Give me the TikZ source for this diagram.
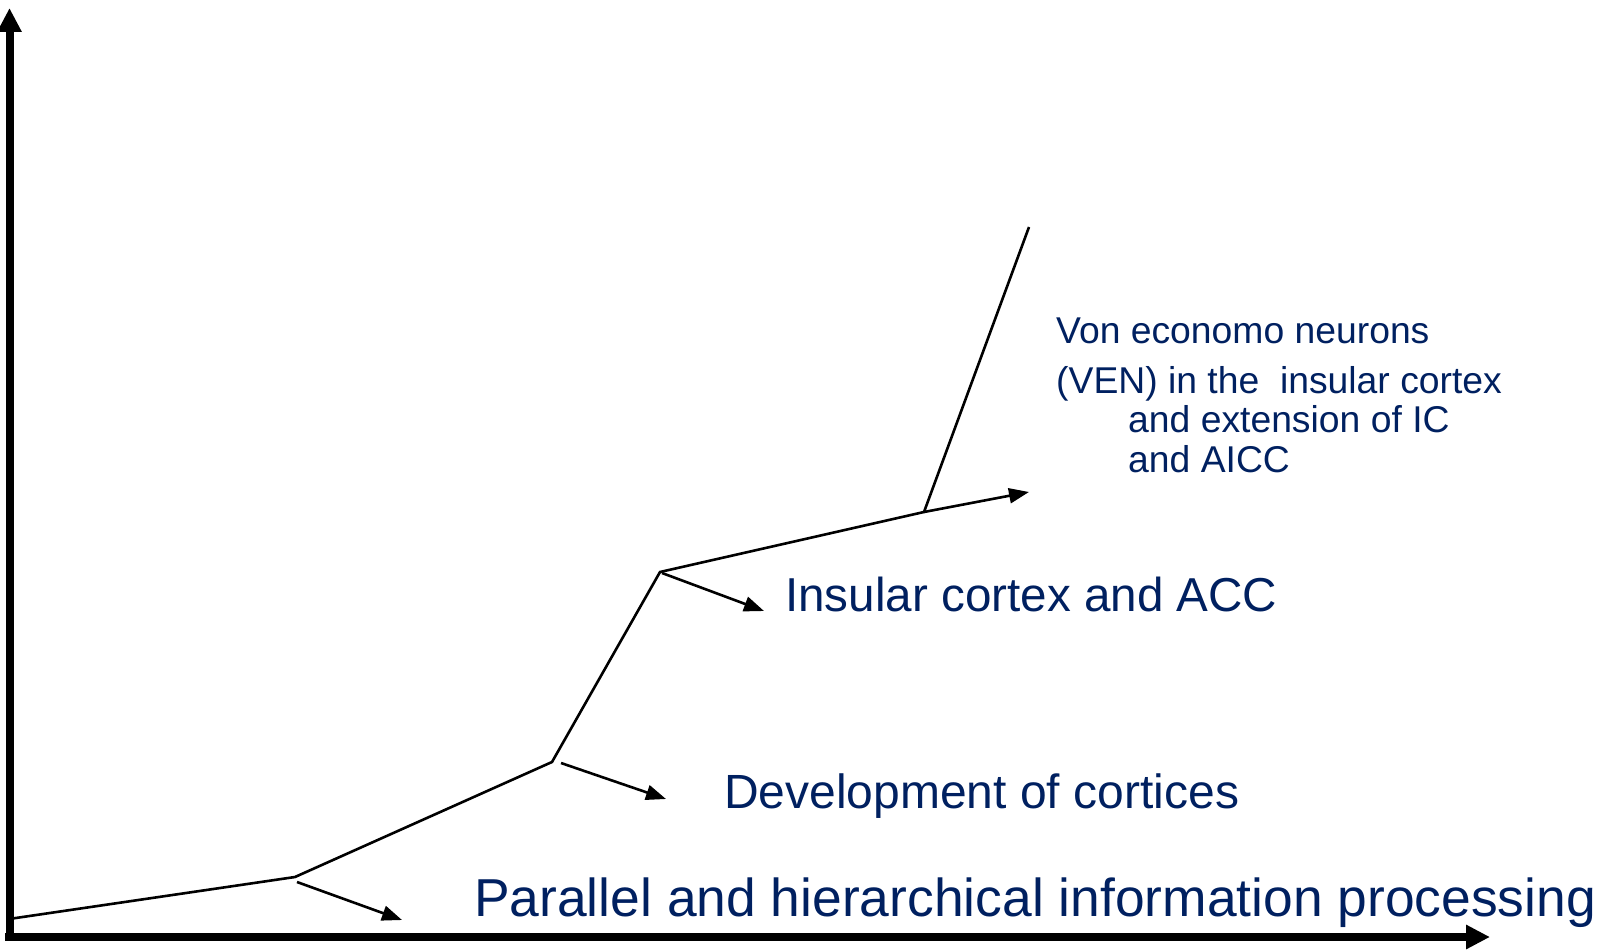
\documentclass[tikz,border=0pt]{standalone}
\usepackage{fontspec}
\setmainfont{Liberation Sans}
\usetikzlibrary{arrows.meta}
\definecolor{navy}{RGB}{0,32,96}
\tikzset{
  axisline/.style={line width=8pt,-{Triangle[length=24pt,width=23pt]}},
  curveline/.style={line width=2.6pt,line join=miter},
  smallarrow/.style={line width=2.6pt,-{Triangle[length=20pt,width=15pt]}},
  bigtext/.style={anchor=base west,inner sep=0pt,text=navy,font=\fontsize{53.4}{64}\selectfont},
  midtext/.style={anchor=base west,inner sep=0pt,text=navy,font=\fontsize{48}{58}\selectfont},
  instext/.style={anchor=base west,inner sep=0pt,text=navy,font=\fontsize{47.6}{58}\selectfont},
  smalltext/.style={anchor=base west,inner sep=0pt,text=navy,font=\fontsize{37.3}{44}\selectfont}
}
\begin{document}
\begin{tikzpicture}[x=1pt,y=-1pt]
\useasboundingbox (0,0) rectangle (1604,952);
% axes
\coordinate (origin) at (9.5,940);
\coordinate (ytip) at (9.5,8);
\coordinate (xorig) at (5,937);
\coordinate (xtip) at (1490,937);
\draw[axisline] (origin) -- (ytip);
\draw[axisline] (xorig) -- (xtip);
% curve points
\coordinate (p0) at (9,919);
\coordinate (p1) at (295,877);
\coordinate (p2) at (552,762);
\coordinate (p3) at (660,572);
\coordinate (p4) at (924,512);
\coordinate (p5) at (1029,227);
\coordinate (p6) at (1029,492);
\draw[curveline] (p0) -- (p1) -- (p2) -- (p3) -- (p4);
\draw[curveline] (p4) -- (p5);
\draw[smallarrow] (p4) -- (p6);
% small arrows
\coordinate (a1s) at (297,882);
\coordinate (a1e) at (402,920);
\coordinate (a2s) at (561,763);
\coordinate (a2e) at (666,799);
\coordinate (a3s) at (662,573);
\coordinate (a3e) at (764,611);
\draw[smallarrow] (a1s) -- (a1e);
\draw[smallarrow] (a2s) -- (a2e);
\draw[smallarrow] (a3s) -- (a3e);
% texts
\node[bigtext] (t1) at (474,916) {Parallel and hierarchical information processing};
\node[midtext] (t2) at (724,808) {Development of cortices};
\node[instext] (t3) at (785,611) {Insular cortex and ACC};
\node[smalltext] (v1) at (1056,343) {Von economo neurons};
\node[smalltext] (v2) at (1056,393) {(VEN) in the \ insular cortex};
\node[smalltext] (v3) at (1128,432) {and extension of IC};
\node[smalltext] (v4) at (1128,472) {and AICC};
\end{tikzpicture}
\end{document}
